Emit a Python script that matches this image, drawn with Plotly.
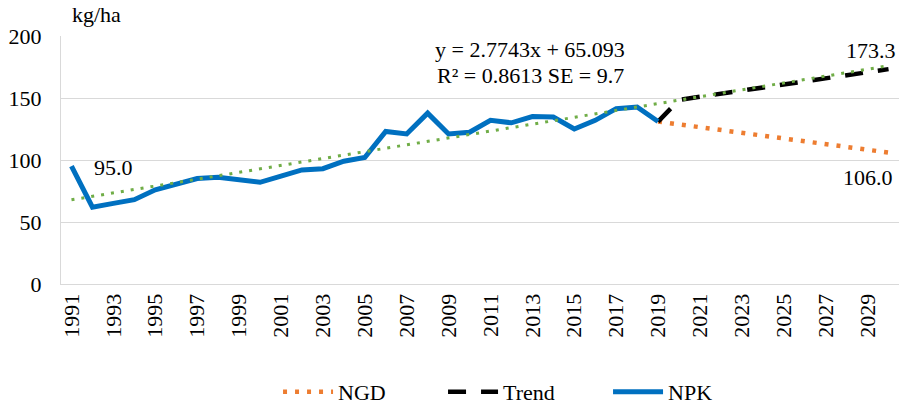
import plotly.graph_objects as go

years_npk = list(range(1991, 2020))
npk = [95.0, 62, 65, 68, 76, 81, 85, 86, 84, 82, 87, 92, 93, 99, 102,
       123, 121, 137.8, 121, 122.4, 132, 130, 135, 134.6, 125, 132, 141.4, 142.7, 131]

years_proj = list(range(2019, 2031))
ngd = [131, 128.7, 126.5, 124.2, 122, 119.8, 117.5, 115.2, 113, 110.7, 108.4, 106.0]
trend = [131, 148.4, 151, 153.5, 156, 158.5, 161, 163.5, 166, 168.5, 171, 173.3]

fit_years = [1991, 2030]
fit_vals = [67.9, 176.0]

tick_years = list(range(1991, 2031, 2))
font_family = "'Liberation Serif', 'Times New Roman', Times, serif"
FS = 22

fig = go.Figure()
fig.add_trace(go.Scatter(x=years_proj, y=ngd, mode="lines", name="NGD",
                         line=dict(color="#ED7D31", width=4.5, dash="4px,8px")))
fig.add_trace(go.Scatter(x=years_proj, y=trend, mode="lines", name="Trend",
                         line=dict(color="#000000", width=4.5, dash="18px,15px")))
fig.add_trace(go.Scatter(x=years_npk, y=npk, mode="lines", name="NPK",
                         line=dict(color="#0070C0", width=5)))
fig.add_trace(go.Scatter(x=fit_years, y=fit_vals, mode="lines", showlegend=False,
                         line=dict(color="#70AD47", width=3, dash="3px,7px")))

fig.add_annotation(x=1992, y=94, text="95.0", showarrow=False, xanchor="left",
                   yanchor="middle", font=dict(size=FS))
fig.add_annotation(x=0.999, xref="paper", y=173.3, text="173.3", showarrow=False,
                   xanchor="right", yanchor="bottom", yshift=4, font=dict(size=FS))
fig.add_annotation(x=0.995, xref="paper", y=106.0, text="106.0", showarrow=False,
                   xanchor="right", yanchor="top", yshift=-10, font=dict(size=FS))
fig.add_annotation(x=2012.9, y=189, text="y = 2.7743x + 65.093",
                   showarrow=False, xanchor="center", yanchor="middle", font=dict(size=FS))
fig.add_annotation(x=2012.9, y=168.5, text="R² = 0.8613 SE = 9.7",
                   showarrow=False, xanchor="center", yanchor="middle", font=dict(size=FS))
fig.add_annotation(x=0.011, xref="paper", y=1.03, yref="paper", text="kg/ha",
                   showarrow=False, xanchor="left", yanchor="bottom", font=dict(size=FS))

fig.update_layout(
    width=901, height=406, autosize=False,
    margin=dict(l=61, r=2, t=36, b=122, autoexpand=False),
    paper_bgcolor="white", plot_bgcolor="white",
    font=dict(family=font_family, size=FS, color="#000000"),
    showlegend=True,
    legend=dict(orientation="h", x=0.259, xanchor="left", y=-0.435, yanchor="middle",
                font=dict(size=FS), entrywidth=100, itemwidth=50),
    xaxis=dict(range=[1990.5, 2030.5], tickmode="array", tickvals=tick_years,
               ticktext=[str(y) for y in tick_years], tickangle=-90,
               showgrid=False, showline=True, linecolor="#D9D9D9", linewidth=1,
               ticks="", zeroline=False, tickfont=dict(size=FS), automargin=False),
    yaxis=dict(range=[0, 200], tickvals=[0, 50, 100, 150, 200], showgrid=True,
               gridcolor="#D9D9D9", gridwidth=1, showline=True, linecolor="#D9D9D9",
               ticks="", zeroline=False, tickfont=dict(size=FS), ticklabelstandoff=14,
               automargin=False),
)

fig.write_html("out.html", config={"responsive": False, "displayModeBar": False},
               post_script="document.body.style.margin='0';")
